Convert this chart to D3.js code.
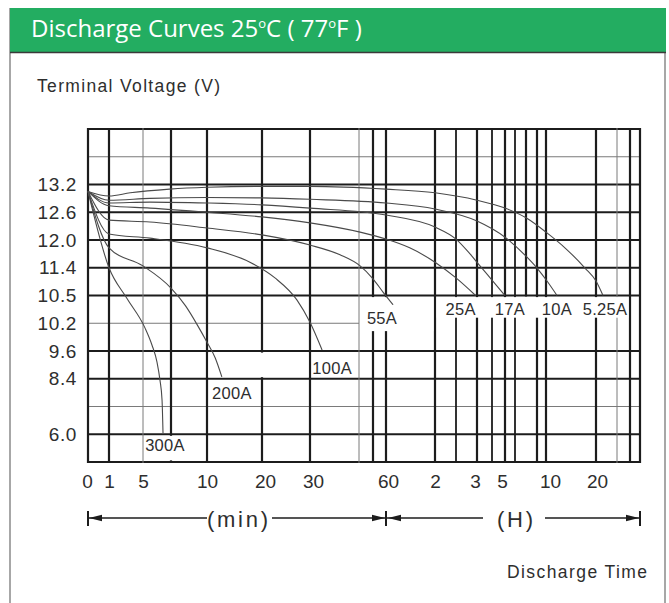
<!DOCTYPE html>
<html><head><meta charset="utf-8">
<script src="https://cdn.jsdelivr.net/npm/d3@7/dist/d3.min.js"></script>
<style>body{margin:0;background:#fff}svg{display:block}</style>
</head><body>
<script>
// ---------------- data ----------------
const seriesNames = ["300A","200A","100A","55A","25A","17A","10A","5.25A"];
// [time (minutes), voltage (V)]
const curve300A = [[0,13.05],[1,11.4],[3.1,10.47],[5.14,10.1],[5.64,9.73],[6.0,9.12],[6.21,8.35],[6.36,7.48],[6.43,6.05]];
const curve200A = [[0,13.05],[1,11.83],[5,11.44],[7,10.74],[8.2,10.39],[9.2,10.16],[10,9.79],[11.5,9.3],[12.7,8.48]];
const curve100A = [[0,13.05],[1,12.13],[5.5,12.04],[10,11.83],[17.8,11.52],[22.7,11.07],[27.3,10.45],[30,10.21],[33.7,9.62]];
const curve55A  = [[0,13.05],[1,12.43],[5.5,12.39],[10,12.26],[20,12.11],[30,11.89],[39.2,11.68],[45.4,11.44],[50,11.04],[57.7,10.61],[68.6,10.4]];
const curve25A  = [[0,13.05],[1,12.74],[5.5,12.69],[10,12.6],[20,12.5],[30,12.37],[45.4,12.17],[60,12.02],[89,11.83],[120,11.52],[150,11.07],[178,10.5]];
const curve17A  = [[0,13.05],[1,12.8],[5.5,12.82],[10,12.8],[20,12.76],[30,12.69],[60,12.54],[120,12.28],[150,12.02],[170,11.7],[192,11.44],[240,11.0],[300,10.5]];
const curve10A  = [[0,13.05],[1,12.86],[5.5,12.9],[10,12.92],[20,12.91],[30,12.88],[60,12.8],[120,12.67],[180,12.41],[300,12.06],[420,11.65],[480,11.39],[612,10.97],[732,10.5]];
const curve525A = [[0,13.05],[1,12.95],[3.5,13.02],[6.9,13.1],[10,13.14],[20,13.16],[30,13.16],[60,13.1],[120,13.02],[180,12.86],[300,12.69],[420,12.48],[600,12.17],[840,11.81],[1068,11.39],[1200,10.97],[1400,10.5]];
const seriesValues = [curve300A,curve200A,curve100A,curve55A,curve25A,curve17A,curve10A,curve525A];

const voltageLevels = [4.8,6.0,7.2,8.4,9.6,10.2,10.5,11.4,12.0,12.6,13.2,13.8,14.4];
const voltageTickValues = [13.2,12.6,12.0,11.4,10.5,10.2,9.6,8.4,6.0];
const voltageTickLabels = ["13.2","12.6","12.0","11.4","10.5","10.2","9.6","8.4","6.0"];
const timeTickValues = [0,1,5,10,20,30,60,120,180,300,600,1200];
const timeTickLabels = ["0","1","5","10","20","30","60","2","3","5","10","20"];
const timeGrid = [0,1,5,7,10,20,30,45,50,60,120,150,180,240,300,360,420,480,600,1200,1800,2400,3000];

// ---------------- layout ----------------
const W = 669, H = 603;
const M = {left:88, top:129};
const PW = 552, PH = 333;
const timeStopPx = [0,21,55,83,119,174,222,271,285,298,347,368,389,404,417,427,438,449,458,508,529,542,552];
const tickLabelDx = [-1,0,0,0,3,3,2,0,-2,-3,4,1];
const thinTimes = [5,45,1800], midTimes = [150,240,360];
const thinVolts = [13.8,10.2,7.2];
const labelOffset = {"300A":[2,18],"200A":[10,22],"100A":[10,24],"55A":[-11,19],"25A":[-15,19],"17A":[5,19],"10A":[0,19],"5.25A":[2,19]};
const ink = "#1c1c1c", txt = "#2e2e2e";

const svg = d3.select("body").append("svg").attr("width",W).attr("height",H);

// frame + header
svg.append("rect").attr("x",0).attr("y",0).attr("width",W).attr("height",H).attr("fill","#fff");
svg.append("line").attr("x1",10).attr("x2",10).attr("y1",8).attr("y2",H).attr("stroke","#8a8a8a").attr("stroke-width",1.5);
svg.append("line").attr("x1",665).attr("x2",665).attr("y1",8).attr("y2",H).attr("stroke","#8a8a8a").attr("stroke-width",1.5);
svg.append("rect").attr("x",10).attr("y",8).attr("width",656).attr("height",44).attr("fill","#23ad61");
svg.append("line").attr("x1",10).attr("x2",666).attr("y1",52.5).attr("y2",52.5).attr("stroke","#3a3a3a").attr("stroke-width",1.5);
const title = svg.append("text").attr("x",31).attr("y",37).attr("fill","#fff")
  .attr("font-family","'Open Sans', sans-serif").attr("font-size",24);
title.append("tspan").text("Discharge Curves 25");
title.append("tspan").attr("font-size",13).attr("dy",-9).text("o");
title.append("tspan").attr("dy",9).text("C ( 77");
title.append("tspan").attr("font-size",13).attr("dy",-9).text("o");
title.append("tspan").attr("dy",9).text("F )");

svg.append("text").attr("x",37).attr("y",92).attr("fill",txt)
  .attr("font-family","'Liberation Sans', Arial, sans-serif").attr("font-size",17.5)
  .attr("textLength",183).attr("lengthAdjust","spacing").text("Terminal Voltage (V)");

// scales
const x = d3.scaleLinear().domain(timeGrid).range(timeStopPx);
const y = d3.scaleLinear().domain(voltageLevels).range(voltageLevels.map((d,i)=>PH - i*PH/12));

const g = svg.append("g").attr("transform",`translate(${M.left},${M.top})`);

// horizontal grid
voltageLevels.forEach(v=>{
  const thin = thinVolts.includes(v);
  const xEnd = v===10.2 ? x(45) : PW;
  g.append("line").attr("x1",0).attr("x2",xEnd).attr("y1",y(v)).attr("y2",y(v))
    .attr("stroke",thin?"#7a7a7a":ink).attr("stroke-width",thin?1:2.2);
});
// vertical grid
timeGrid.forEach(t=>{
  const thin = thinTimes.includes(t), mid = midTimes.includes(t);
  const yBot = t===420 ? y(10.5) : PH;
  g.append("line").attr("x1",x(t)).attr("x2",x(t)).attr("y1",-1).attr("y2",yBot+1)
    .attr("stroke",thin?"#7a7a7a":ink).attr("stroke-width",thin?1:(mid?1.8:2.2));
});

// merged cells / label boxes (data-space cells)
const masks = [
  {t:[5,10], v:[4.8,6.0], full:true},
  {t:[10,30], v:[8.4,9.6], full:true},
  {t:[45,120], v:[10.03,10.5], full:false},
  {t:[120,2400], v:[10.26,10.5], full:false}
];
masks.forEach(m=>{
  const x0 = x(m.t[0])+1.6, x1 = x(m.t[1])-1.6;
  const y0 = y(m.v[1])+1.6;
  const y1 = m.full ? y(m.v[0])-1.6 : y(m.v[0]);
  g.append("rect").attr("x",x0).attr("y",y0).attr("width",x1-x0).attr("height",y1-y0).attr("fill","#fff");
});

// curves
const line = d3.line().x(d=>x(d[0])).y(d=>y(d[1])).curve(d3.curveMonotoneX);
seriesValues.forEach(s=>{
  g.append("path").attr("d",line(s)).attr("fill","none").attr("stroke","#4a4a4a").attr("stroke-width",1.1);
});
// curve labels
seriesValues.forEach((s,i)=>{
  const name = seriesNames[i];
  const end = s[s.length-1];
  const off = labelOffset[name];
  g.append("text").attr("x",x(end[0])+off[0]).attr("y",y(end[1])+off[1])
    .attr("text-anchor","middle").attr("fill",txt)
    .attr("font-family","'Liberation Sans', Arial, sans-serif").attr("font-size",16.5)
    .attr("letter-spacing",0.3).text(name);
});

// axes
const yAxis = d3.axisLeft(y).tickValues(voltageTickValues).tickFormat((d,i)=>voltageTickLabels[i]).tickSize(0).tickPadding(11);
const ya = g.append("g").call(yAxis);
ya.select(".domain").remove();
ya.selectAll("text").attr("font-family","'Liberation Sans', Arial, sans-serif").attr("font-size",19)
  .attr("fill",txt).attr("letter-spacing",0.6);

const xAxis = d3.axisBottom(x).tickValues(timeTickValues).tickFormat((d,i)=>timeTickLabels[i]).tickSize(0).tickPadding(12.5);
const xa = g.append("g").attr("transform",`translate(0,${PH})`).call(xAxis);
xa.select(".domain").remove();
xa.selectAll("text").attr("font-family","'Liberation Sans', Arial, sans-serif").attr("font-size",19).attr("fill",txt)
  .attr("dx",(d,i)=>tickLabelDx[i]);

// time-span arrows
const ay = 518 - M.top;
function bar(px){ g.append("line").attr("x1",px).attr("x2",px).attr("y1",ay-7).attr("y2",ay+8).attr("stroke",ink).attr("stroke-width",2); }
function seg(a,b){ g.append("line").attr("x1",a).attr("x2",b).attr("y1",ay).attr("y2",ay).attr("stroke",ink).attr("stroke-width",1.5); }
function head(tip,dir){ g.append("path").attr("d",`M${tip},${ay} L${tip-dir*13},${ay-3.2} L${tip-dir*13},${ay+3.2} Z`).attr("fill",ink); }
const xMin0 = x(0), xMin1 = x(60), xH1 = x(3000);
bar(xMin0); bar(xMin1); bar(xH1);
seg(xMin0+1, 207-M.left); seg(272-M.left, xMin1-1);
head(xMin0+1,-1); head(xMin1-1,1);
seg(xMin1+1, 483-M.left); seg(545-M.left, xH1-1);
head(xMin1+2,-1); head(xH1-1,1);
g.append("text").attr("x",237.5-M.left).attr("y",527-M.top).attr("text-anchor","middle").attr("fill",txt)
  .attr("font-family","'Liberation Sans', Arial, sans-serif").attr("font-size",22)
  .attr("textLength",61).attr("lengthAdjust","spacing").text("(min)");
g.append("text").attr("x",515-M.left).attr("y",527-M.top).attr("text-anchor","middle").attr("fill",txt)
  .attr("font-family","'Liberation Sans', Arial, sans-serif").attr("font-size",22)
  .attr("textLength",36).attr("lengthAdjust","spacing").text("(H)");

svg.append("text").attr("x",507).attr("y",578).attr("fill",txt)
  .attr("font-family","'Liberation Sans', Arial, sans-serif").attr("font-size",17.5)
  .attr("textLength",140).attr("lengthAdjust","spacing").text("Discharge Time");
</script>
</body></html>
